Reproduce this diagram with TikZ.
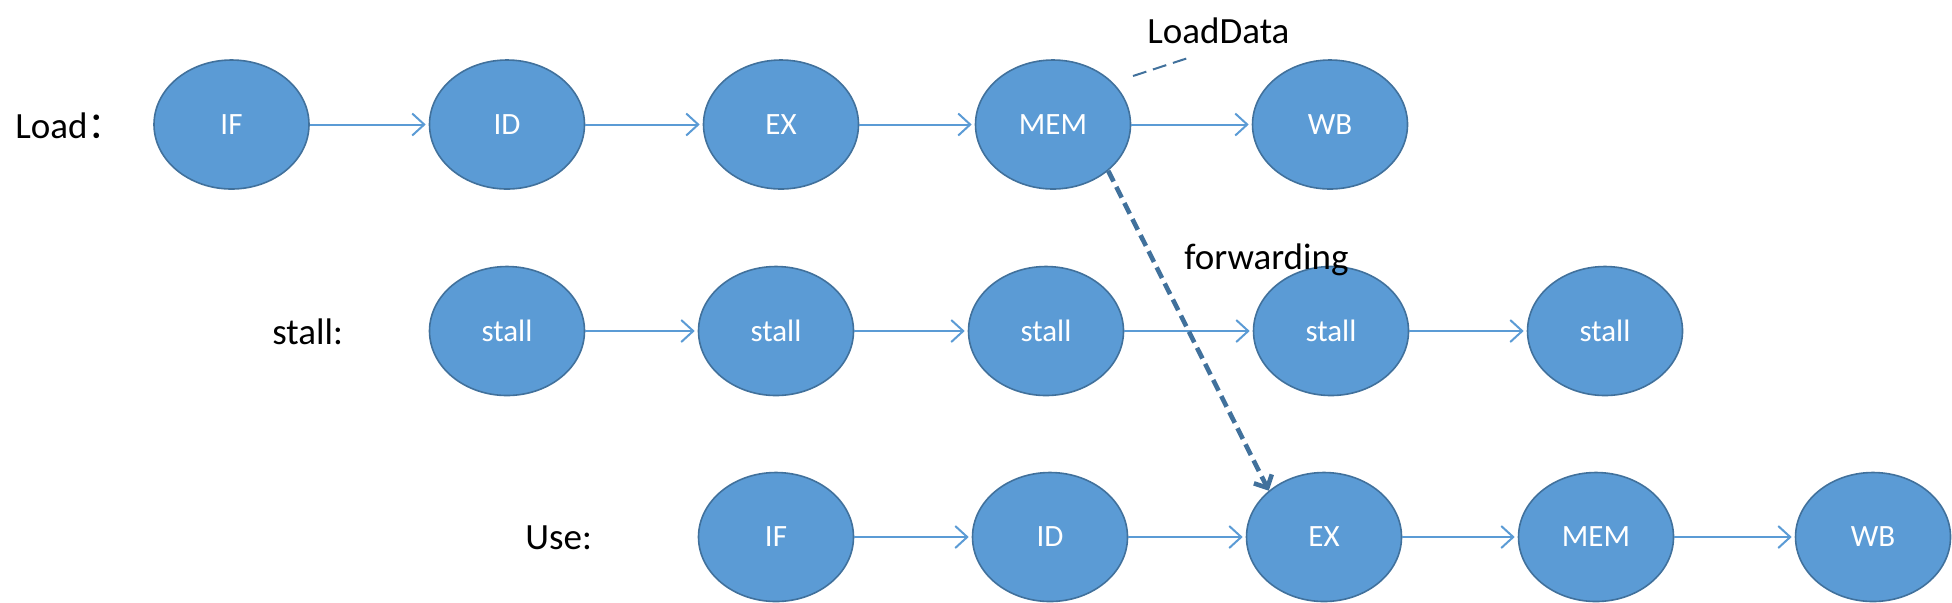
\documentclass[tikz,border=0pt]{standalone}
\usepackage{fontspec}
\setmainfont{Carlito}
\newfontfamily\cjk{Noto Sans CJK SC}
\usetikzlibrary{arrows.meta,shapes.geometric}
\definecolor{fillblue}{HTML}{5B9BD5}
\definecolor{edgeblue}{HTML}{41719C}
\begin{document}
\begin{tikzpicture}[x=0.5pt,y=-0.5pt,
 stage/.style={ellipse, draw=edgeblue, line width=0.8pt, fill=fillblue,
   minimum width=77.5pt, minimum height=64.5pt, inner sep=0pt, text=white,
   font=\fontsize{15.5}{18}\selectfont},
 lbl/.style={anchor=west, inner sep=0pt, font=\fontsize{18.5}{22}\selectfont},
 flow/.style={draw=fillblue, line width=1pt, shorten >=1.5pt,
   -{Straight Barb[length=6pt,width=11pt]}},
 fwd/.style={draw=edgeblue, line width=2.3pt, dash pattern=on 6pt off 3pt,
   -{Straight Barb[length=5pt,width=10pt]}},
 note/.style={draw=edgeblue, line width=1pt, dash pattern=on 7pt off 3.5pt}]
\useasboundingbox (0,0) rectangle (1952,602);
% row 1
\node[stage] (a1) at (231.5,124.5) {IF};
\node[stage] (a2) at (507,124.5) {ID};
\node[stage] (a3) at (781,124.5) {EX};
\node[stage] (a4) at (1053,124.5) {MEM};
\node[stage] (a5) at (1330,124.5) {WB};
% row 2
\node[stage] (b1) at (507,331) {stall};
\node[stage] (b2) at (776,331) {stall};
\node[stage] (b3) at (1046,331) {stall};
\node[stage] (b4) at (1331,331) {stall};
\node[stage] (b5) at (1605,331) {stall};
% row 3
\node[stage] (c1) at (776,537) {IF};
\node[stage] (c2) at (1050,537) {ID};
\node[stage] (c3) at (1324,537) {EX};
\node[stage] (c4) at (1596,537) {MEM};
\node[stage] (c5) at (1873,537) {WB};
% labels
\node[lbl] (lload) at (15,126) {Load{\cjk ：}};
\node[lbl] (lstall) at (272,332) {stall:};
\node[lbl] (luse) at (525,538) {Use:};
\node[lbl] (lld) at (1147,31) {LoadData};
\node[lbl] (lfw) at (1184,260) {forwarding};
% flows
\foreach \r in {a,b,c}{
  \draw[flow] (\r1) -- (\r2);
  \draw[flow] (\r2) -- (\r3);
  \draw[flow] (\r3) -- (\r4);
  \draw[flow] (\r4) -- (\r5);
}
% forwarding
\draw[fwd] (a4.-40) -- (c3.140);
% LoadData callout
\coordinate (ld1) at (1133,76);
\coordinate (ld2) at (1191,57);
\draw[note] (ld1) -- (ld2);
\end{tikzpicture}
\end{document}
